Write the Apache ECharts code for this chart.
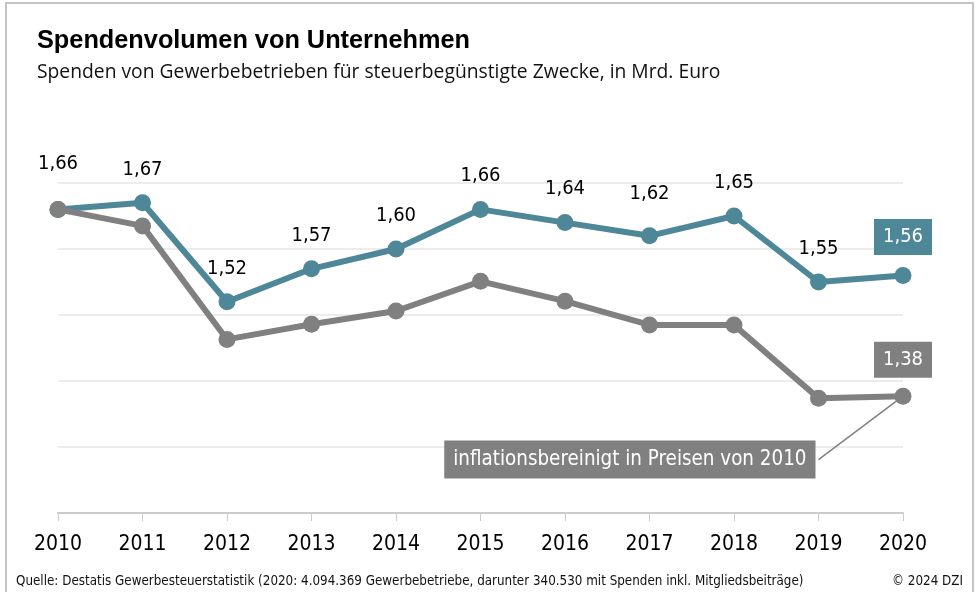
<!DOCTYPE html>
<html>
<head>
<meta charset="utf-8">
<script src="https://cdn.jsdelivr.net/npm/echarts@6/dist/echarts.min.js"></script>
<style>
  html, body { margin: 0; padding: 0; background: #fff; }
  #main { width: 978px; height: 592px; }
</style>
</head>
<body>
<div id="main"></div>
<script>
// Daten
var jahre = ['2010', '2011', '2012', '2013', '2014', '2015', '2016', '2017', '2018', '2019', '2020'];
var nominal = [1.66, 1.67, 1.52, 1.57, 1.60, 1.66, 1.64, 1.62, 1.65, 1.55, 1.56];
var real = [1.66, 1.635, 1.463, 1.486, 1.506, 1.551, 1.521, 1.485, 1.485, 1.374, 1.377];
var hinweisText = 'inflationsbereinigt in Preisen von 2010';
var hinweisPunkt = ['2019', 1.281];

var blau = '#4e8797';
var grau = '#808080';
var narrow = '"DejaVu Sans Condensed", "Liberation Sans Narrow", sans-serif';

function komma(v) {
    return v.toFixed(2).replace('.', ',');
}

var myChart = echarts.init(document.getElementById('main'));

var blauDaten = nominal.map(function(v, i) {
    var item = { value: v };
    if (i == 0) item.label = { offset: [0, -12] };
    if (i == 7) item.label = { offset: [0, -9] };
    if (i == nominal.length - 1) {
        item.label = {
            backgroundColor: blau, color: '#fff', padding: [7, 9, 7, 9], distance: 12
        };
    }
    return item;
});

var grauDaten = real.map(function(v, i) {
    var item = { value: v };
    if (i == real.length - 1) {
        item.label = {
            show: true, backgroundColor: grau, color: '#fff', padding: [7, 9, 7, 9], distance: 10
        };
    }
    return item;
});

var option = {
    animation: false,
    backgroundColor: '#fff',
    title: [
        {
            text: 'Spendenvolumen von Unternehmen',
            left: 32, top: 24,
            textStyle: { fontFamily: 'Liberation Sans', fontWeight: 'bold', fontSize: 25.3, color: '#000' }
        },
        {
            text: 'Spenden von Gewerbebetrieben für steuerbegünstigte Zwecke, in Mrd. Euro',
            left: 32, top: 58,
            textStyle: { fontFamily: '"Open Sans", sans-serif', fontWeight: 'normal', fontSize: 19.3, color: '#111' }
        },
        {
            text: 'Quelle: Destatis Gewerbesteuerstatistik (2020: 4.094.369 Gewerbebetriebe, darunter 340.530 mit Spenden inkl. Mitgliedsbeiträge)',
            left: 11, top: 570,
            textStyle: { fontFamily: narrow, fontWeight: 'normal', fontSize: 13.3, color: '#111' }
        },
        {
            text: '© 2024 DZI',
            right: 10, top: 570,
            textStyle: { fontFamily: narrow, fontWeight: 'normal', fontSize: 13.3, color: '#111' }
        }
    ],
    graphic: [
        {
            type: 'rect',
            shape: { x: 6, y: 3, width: 967, height: 620 },
            style: { fill: 'none', stroke: '#c4c4c4', lineWidth: 2 },
            silent: true
        }
    ],
    grid: { left: 58, right: 75, top: 183, bottom: 79 },
    xAxis: {
        type: 'category',
        data: jahre,
        boundaryGap: false,
        axisLine: { lineStyle: { color: '#cccccc', width: 2 } },
        axisTick: { show: true, length: 8, lineStyle: { color: '#cccccc', width: 1 } },
        axisLabel: { fontFamily: narrow, fontSize: 21, color: '#000', margin: 21 }
    },
    yAxis: {
        type: 'value',
        min: 1.2, max: 1.7, interval: 0.1,
        axisLine: { show: false },
        axisTick: { show: false },
        axisLabel: { show: false },
        splitLine: { lineStyle: { color: '#ececec', width: 2 } }
    },
    series: [
        {
            name: 'nominal',
            type: 'line',
            data: blauDaten,
            symbol: 'circle',
            symbolSize: 17,
            lineStyle: { color: blau, width: 6 },
            itemStyle: { color: blau },
            label: {
                show: true, position: 'top', distance: 14,
                fontFamily: narrow, fontSize: 20, lineHeight: 22, color: '#000',
                formatter: function(p) { return komma(p.value); }
            },
            z: 2
        },
        {
            name: 'real',
            type: 'line',
            data: grauDaten,
            symbol: 'circle',
            symbolSize: 17,
            lineStyle: { color: grau, width: 6 },
            itemStyle: { color: grau },
            label: {
                show: false, position: 'top',
                fontFamily: narrow, fontSize: 20, lineHeight: 22, color: '#fff',
                formatter: function(p) { return komma(p.value); }
            },
            markLine: {
                silent: true,
                symbol: ['none', 'none'],
                label: { show: false },
                lineStyle: { color: grau, width: 1.5, type: 'solid' },
                data: [[{ coord: hinweisPunkt }, { coord: [jahre[jahre.length - 1], real[real.length - 1]] }]]
            },
            markPoint: {
                silent: true,
                symbol: 'circle',
                symbolSize: 0,
                data: [{ coord: hinweisPunkt }],
                label: {
                    show: true, position: 'left', distance: 3,
                    formatter: hinweisText,
                    fontFamily: narrow, fontSize: 20.4, lineHeight: 22, color: '#fff',
                    backgroundColor: grau, padding: [8, 9, 8, 9]
                }
            },
            z: 3
        }
    ]
};

myChart.setOption(option);
</script>
</body>
</html>
